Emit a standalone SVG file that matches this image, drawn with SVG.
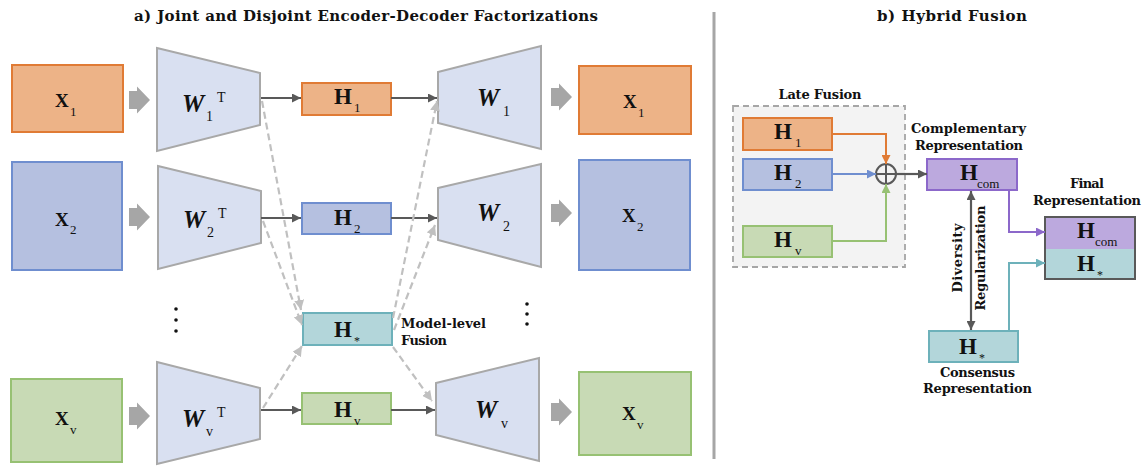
<svg xmlns="http://www.w3.org/2000/svg" width="1147" height="467" viewBox="0 0 1147 467">
<style>
.t{font-family:"DejaVu Serif","Liberation Serif",serif;font-weight:bold;fill:#111}
.big{font-family:"Liberation Serif",serif;font-weight:bold;fill:#111}
.sub{font-family:"Liberation Serif",serif;fill:#111}
.or{fill:#EDB387;stroke:#E07B35;stroke-width:2}
.bl{fill:#B5C0E0;stroke:#6F8ECF;stroke-width:2}
.gr{fill:#C8DAB5;stroke:#97C173;stroke-width:2}
.te{fill:#B3D6DA;stroke:#6DB1BA;stroke-width:2}
.pu{fill:#BCA9DE;stroke:#8C68CA;stroke-width:2}
.tz{fill:#D9E0F1;stroke:#A8A8A8;stroke-width:2}
.ba{fill:#A6A6A6}
.dk{stroke:#595959;stroke-width:2.2;fill:none}
.ds{stroke:#C0C0C0;stroke-width:2.2;fill:none;stroke-dasharray:7,4}
</style>
<defs>
<marker id="mk" viewBox="0 0 10 10" refX="10" refY="5" markerWidth="9" markerHeight="9" markerUnits="userSpaceOnUse" orient="auto-start-reverse"><path d="M0,0L10,5L0,10z" fill="#595959"/></marker>
<marker id="mg" viewBox="0 0 10 10" refX="10" refY="5" markerWidth="10" markerHeight="10" markerUnits="userSpaceOnUse" orient="auto"><path d="M0,0L10,5L0,10z" fill="#C0C0C0"/></marker>
<marker id="mo" viewBox="0 0 10 10" refX="10" refY="5" markerWidth="9" markerHeight="9" markerUnits="userSpaceOnUse" orient="auto"><path d="M0,0L10,5L0,10z" fill="#E07B35"/></marker>
<marker id="mb" viewBox="0 0 10 10" refX="10" refY="5" markerWidth="9" markerHeight="9" markerUnits="userSpaceOnUse" orient="auto"><path d="M0,0L10,5L0,10z" fill="#6F8ECF"/></marker>
<marker id="mgr" viewBox="0 0 10 10" refX="10" refY="5" markerWidth="9" markerHeight="9" markerUnits="userSpaceOnUse" orient="auto"><path d="M0,0L10,5L0,10z" fill="#97C173"/></marker>
<marker id="mp" viewBox="0 0 10 10" refX="10" refY="5" markerWidth="9" markerHeight="9" markerUnits="userSpaceOnUse" orient="auto"><path d="M0,0L10,5L0,10z" fill="#8C68CA"/></marker>
<marker id="mt" viewBox="0 0 10 10" refX="10" refY="5" markerWidth="9" markerHeight="9" markerUnits="userSpaceOnUse" orient="auto"><path d="M0,0L10,5L0,10z" fill="#6DB1BA"/></marker>
<path id="blk" d="M0,-9H8V-13.5L21,0L8,13.5V9H0z"/>
</defs>
<rect width="1147" height="467" fill="#fff"/>

<!-- titles -->
<text class="t" x="366" y="21" font-size="15" text-anchor="middle" textLength="464" lengthAdjust="spacing">a) Joint and Disjoint Encoder-Decoder Factorizations</text>
<text class="t" x="952" y="21" font-size="15" text-anchor="middle" textLength="150" lengthAdjust="spacing">b) Hybrid Fusion</text>
<line x1="714" y1="12" x2="714" y2="459" stroke="#A6A6A6" stroke-width="3"/>

<!-- left: inputs -->
<g id="x1in"><rect class="or" x="12" y="65" width="111" height="67"/><text class="big" x="55" y="107" font-size="19">X</text><text class="sub" x="70" y="116" font-size="13">1</text></g>
<g id="x2in"><rect class="bl" x="12" y="162" width="110" height="108"/><text class="big" x="55" y="226" font-size="19">X</text><text class="sub" x="70" y="234" font-size="13">2</text></g>
<g id="xvin"><rect class="gr" x="11" y="379" width="111" height="83"/><text class="big" x="55" y="425" font-size="19">X</text><text class="sub" x="70" y="434" font-size="13">v</text></g>

<g id="blocks" class="ba">
<use href="#blk" x="129" y="100"/><use href="#blk" x="129" y="217"/><use href="#blk" x="129" y="416"/>
<use href="#blk" x="551" y="97"/><use href="#blk" x="551" y="213"/><use href="#blk" x="551" y="412"/>
</g>

<!-- encoders -->
<g id="enc1"><path class="tz" d="M157,48L260,73V125L157,151z"/><text class="big" x="182" y="112" font-size="25" font-style="italic">W</text><text class="sub" x="206" y="121" font-size="14">1</text><text class="sub" x="217" y="102" font-size="14">T</text></g>
<g id="enc2"><path class="tz" d="M158,166L261,191V243L158,269z"/><text class="big" x="183" y="228" font-size="25" font-style="italic">W</text><text class="sub" x="207" y="237" font-size="14">2</text><text class="sub" x="218" y="218" font-size="14">T</text></g>
<g id="encv"><path class="tz" d="M157,362L260,388V439L157,464z"/><text class="big" x="182" y="427" font-size="25" font-style="italic">W</text><text class="sub" x="206" y="436" font-size="14">v</text><text class="sub" x="217" y="417" font-size="14">T</text></g>

<!-- latent -->
<g id="h1"><rect class="or" x="302" y="83" width="89" height="32"/><text class="big" x="334" y="104" font-size="23">H</text><text class="sub" x="354" y="112" font-size="13">1</text></g>
<g id="h2"><rect class="bl" x="302" y="203" width="89" height="31"/><text class="big" x="334" y="225" font-size="23">H</text><text class="sub" x="354" y="233" font-size="13">2</text></g>
<g id="hs"><rect class="te" x="303" y="313" width="89" height="32"/><text class="big" x="334" y="337" font-size="23">H</text><text class="sub" x="354" y="345" font-size="12">*</text></g>
<g id="hv"><rect class="gr" x="302" y="393" width="89" height="31"/><text class="big" x="334" y="417" font-size="23">H</text><text class="sub" x="354" y="425" font-size="13">v</text></g>
<text class="t" x="401" y="328" font-size="13" textLength="85" lengthAdjust="spacing">Model-level</text>
<text class="t" x="401" y="345" font-size="13" textLength="46" lengthAdjust="spacing">Fusion</text>

<!-- decoders -->
<g id="dec1"><path class="tz" d="M438,72L541,46V149L438,123z"/><text class="big" x="477" y="106" font-size="25" font-style="italic">W</text><text class="sub" x="503" y="116" font-size="14">1</text></g>
<g id="dec2"><path class="tz" d="M438,188L541,164V267L438,240z"/><text class="big" x="477" y="221" font-size="25" font-style="italic">W</text><text class="sub" x="503" y="231" font-size="14">2</text></g>
<g id="decv"><path class="tz" d="M436,383L539,358V461L436,435z"/><text class="big" x="475" y="418" font-size="25" font-style="italic">W</text><text class="sub" x="501" y="428" font-size="14">v</text></g>

<!-- outputs -->
<g id="x1out"><rect class="or" x="579" y="66" width="112" height="68"/><text class="big" x="623" y="108" font-size="19">X</text><text class="sub" x="638" y="117" font-size="13">1</text></g>
<g id="x2out"><rect class="bl" x="579" y="160" width="111" height="110"/><text class="big" x="622" y="222" font-size="19">X</text><text class="sub" x="637" y="231" font-size="13">2</text></g>
<g id="xvout"><rect class="gr" x="579" y="372" width="112" height="83"/><text class="big" x="622" y="420" font-size="19">X</text><text class="sub" x="637" y="429" font-size="13">v</text></g>

<g id="dots" fill="#111">
<circle cx="176" cy="309" r="1.8"/><circle cx="176" cy="320" r="1.8"/><circle cx="176" cy="331" r="1.8"/>
<circle cx="527" cy="304" r="1.8"/><circle cx="527" cy="314" r="1.8"/><circle cx="527" cy="324" r="1.8"/>
<circle cx="784" cy="196" r="1.8"/><circle cx="784" cy="207" r="1.8"/><circle cx="784" cy="217" r="1.8"/>
</g>

<!-- right panel -->
<g id="late"><rect x="733" y="106" width="172" height="161" fill="#F3F3F3" stroke="#A6A6A6" stroke-width="1.8" stroke-dasharray="6,4"/><text class="t" x="820" y="99" font-size="13" text-anchor="middle" textLength="83" lengthAdjust="spacing">Late Fusion</text></g>
<g id="rh1"><rect class="or" x="743" y="118" width="89" height="32"/><text class="big" x="774" y="139" font-size="23">H</text><text class="sub" x="795" y="147" font-size="13">1</text></g>
<g id="rh2"><rect class="bl" x="743" y="159" width="89" height="31"/><text class="big" x="774" y="180" font-size="23">H</text><text class="sub" x="795" y="188" font-size="13">2</text></g>
<g id="rhv"><rect class="gr" x="743" y="226" width="89" height="31"/><text class="big" x="774" y="247" font-size="23">H</text><text class="sub" x="795" y="255" font-size="13">v</text></g>
<g id="plus" stroke="#595959" stroke-width="2" fill="none"><circle cx="886" cy="174" r="10"/><path d="M876,174H896M886,164V184"/></g>
<g id="hcom"><rect class="pu" x="927" y="159" width="90" height="31"/><text class="big" x="960" y="180" font-size="23">H</text><text class="sub" x="977" y="188" font-size="13">com</text></g>
<text class="t" x="968.5" y="133" font-size="13" text-anchor="middle" textLength="115" lengthAdjust="spacing">Complementary</text>
<text class="t" x="969" y="150" font-size="13" text-anchor="middle" textLength="108" lengthAdjust="spacing">Representation</text>
<g id="final"><rect x="1045" y="217" width="90" height="32" fill="#BCA9DE"/><rect x="1045" y="249" width="90" height="30" fill="#B3D6DA"/><rect x="1045" y="217" width="90" height="62" fill="none" stroke="#595959" stroke-width="2"/><text class="big" x="1077" y="238" font-size="23">H</text><text class="sub" x="1095" y="246" font-size="13">com</text><text class="big" x="1077" y="271" font-size="23">H</text><text class="sub" x="1097" y="279" font-size="12">*</text></g>
<text class="t" x="1087" y="188" font-size="13" text-anchor="middle" textLength="34" lengthAdjust="spacing">Final</text>
<text class="t" x="1087" y="205" font-size="13" text-anchor="middle" textLength="108" lengthAdjust="spacing">Representation</text>
<g id="hcons"><rect class="te" x="929" y="331" width="89" height="31"/><text class="big" x="959" y="354" font-size="23">H</text><text class="sub" x="979" y="362" font-size="12">*</text></g>
<text class="t" x="977.5" y="377" font-size="13" text-anchor="middle" textLength="75" lengthAdjust="spacing">Consensus</text>
<text class="t" x="977.5" y="393" font-size="13" text-anchor="middle" textLength="109" lengthAdjust="spacing">Representation</text>
<text class="t" font-size="13" text-anchor="middle" textLength="69" lengthAdjust="spacing" transform="translate(962,258) rotate(-90)">Diversity</text>
<text class="t" font-size="13" text-anchor="middle" textLength="105" lengthAdjust="spacing" transform="translate(985,258) rotate(-90)">Regularization</text>

<!-- connectors -->
<g id="connectors">
<path class="dk" d="M261,98H301" marker-end="url(#mk)"/>
<path class="dk" d="M261,218H301" marker-end="url(#mk)"/>
<path class="dk" d="M261,410H301" marker-end="url(#mk)"/>
<path class="dk" d="M391,98H437" marker-end="url(#mk)"/>
<path class="dk" d="M391,218H437" marker-end="url(#mk)"/>
<path class="dk" d="M391,410H435" marker-end="url(#mk)"/>
<path class="ds" d="M262,101L301,310" marker-end="url(#mg)"/>
<path class="ds" d="M263,221L302,325" marker-end="url(#mg)"/>
<path class="ds" d="M263,408L302,346" marker-end="url(#mg)"/>
<path class="ds" d="M393,318L437,101" marker-end="url(#mg)"/>
<path class="ds" d="M394,330L435,225" marker-end="url(#mg)"/>
<path class="ds" d="M393,347L432,401" marker-end="url(#mg)"/>
<path d="M832,134H886V164" fill="none" stroke="#E07B35" stroke-width="2" marker-end="url(#mo)"/>
<path d="M832,174H876" fill="none" stroke="#6F8ECF" stroke-width="2" marker-end="url(#mb)"/>
<path d="M832,241H886V184" fill="none" stroke="#97C173" stroke-width="2" marker-end="url(#mgr)"/>
<path class="dk" d="M896,174H927" marker-end="url(#mk)"/>
<path d="M1009,190V232H1045" fill="none" stroke="#8C68CA" stroke-width="2" marker-end="url(#mp)"/>
<path d="M1009,331V263H1045" fill="none" stroke="#6DB1BA" stroke-width="2" marker-end="url(#mt)"/>
<path class="dk" d="M971,191V330" marker-start="url(#mk)" marker-end="url(#mk)"/>
</g>
</svg>
